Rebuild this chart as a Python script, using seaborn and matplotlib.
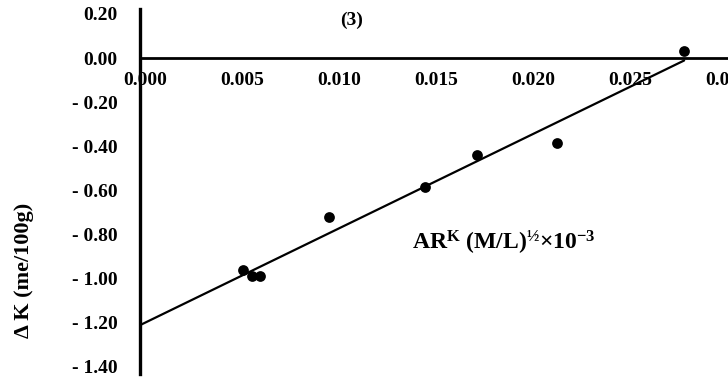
import matplotlib
matplotlib.use("Agg")
import matplotlib.pyplot as plt
import matplotlib.transforms as mtransforms
import numpy as np
import pandas as pd
import seaborn as sns

# ---- data ----
ar_k = [0.00531, 0.00577, 0.00619, 0.00974, 0.01469, 0.01737, 0.0215, 0.02804]
delta_k = [-0.96, -0.99, -0.99, -0.72, -0.585, -0.44, -0.385, 0.03]
x_ticks = [0.000, 0.005, 0.010, 0.015, 0.020, 0.025, 0.030]
x_tick_labels = ["0.000", "0.005", "0.010", "0.015", "0.020", "0.025", "0.030"]
y_ticks = [0.20, 0.00, -0.20, -0.40, -0.60, -0.80, -1.00, -1.20, -1.40]
y_tick_labels = ["0.20", "0.00", "- 0.20", "- 0.40", "- 0.60", "- 0.80",
                 "- 1.00", "- 1.20", "- 1.40"]
panel_label = "(3)"
x_label = r"AR$^{\mathrm{K}}$ (M/L)$^{\mathrm{½}}$×10$^{\mathrm{-3}}$"
y_label = "Δ K (me/100g)"

sns.set_theme(style="white")
plt.rcParams['font.family'] = ['Liberation Serif', 'DejaVu Serif']
plt.rcParams['font.weight'] = 'bold'
plt.rcParams['text.color'] = 'black'
plt.rcParams['xtick.color'] = 'black'
plt.rcParams['ytick.color'] = 'black'
plt.rcParams['mathtext.fontset'] = 'custom'
plt.rcParams['mathtext.rm'] = 'Liberation Serif:bold'
plt.rcParams['mathtext.bf'] = 'Liberation Serif:bold'
plt.rcParams['mathtext.it'] = 'Liberation Serif:bold'

W, H = 728, 382
fig = plt.figure(figsize=(W / 100, H / 100), dpi=100)
ax = fig.add_axes([140 / W, 1 - 373.5 / H, 1 - 140 / W, (373.5 - 9.5) / H])

df = pd.DataFrame({"ar": ar_k, "dk": delta_k})
slope, intercept = np.polyfit(ar_k, delta_k, 1)
xl = np.array([0.0, max(ar_k)])
ax.plot(xl, intercept + slope * xl, color="black", lw=1.6, zorder=2)
sns.scatterplot(data=df, x="ar", y="dk", color="black", s=60, linewidth=0,
                ax=ax, zorder=3, clip_on=False)

ax.set_xlim(0, 0.0303)
ax.set_ylim(-1.43, 0.22)
ax.set_xlabel("")
ax.set_ylabel("")

ax.spines["top"].set_visible(False)
ax.spines["right"].set_visible(False)
ax.spines["left"].set_position(("data", 0))
ax.spines["bottom"].set_position(("data", 0))
ax.spines["left"].set_linewidth(2.4)
ax.spines["bottom"].set_linewidth(2.0)
ax.spines["left"].set_color("black")
ax.spines["bottom"].set_color("black")

ax.set_xticks(x_ticks)
ax.set_xticklabels(x_tick_labels, fontsize=14, fontweight="bold")
ax.set_yticks(y_ticks)
ax.set_yticklabels(y_tick_labels, fontsize=14, fontweight="bold")
ax.tick_params(axis="x", length=0, pad=10)
ax.tick_params(axis="y", length=4, width=2, direction="out", pad=12)
shift = mtransforms.ScaledTranslation(5 / 100, 0, fig.dpi_scale_trans)
for lab in ax.get_xticklabels():
    lab.set_transform(lab.get_transform() + shift)
ax.get_xticklabels()[0].set_bbox(dict(facecolor="white", edgecolor="none", pad=2))
ax.grid(False)

fig.text(352 / W, 1 - 20 / H, panel_label, ha="center", va="center",
         fontsize=14, fontweight="bold")
fig.text(504 / W, 1 - 243 / H, x_label, ha="center", va="center",
         fontsize=17, fontweight="bold")
fig.text(24 / W, 1 - 270 / H, y_label, ha="center", va="center",
         rotation=90, fontsize=16, fontweight="bold")

fig.savefig("out.png", dpi=100)
